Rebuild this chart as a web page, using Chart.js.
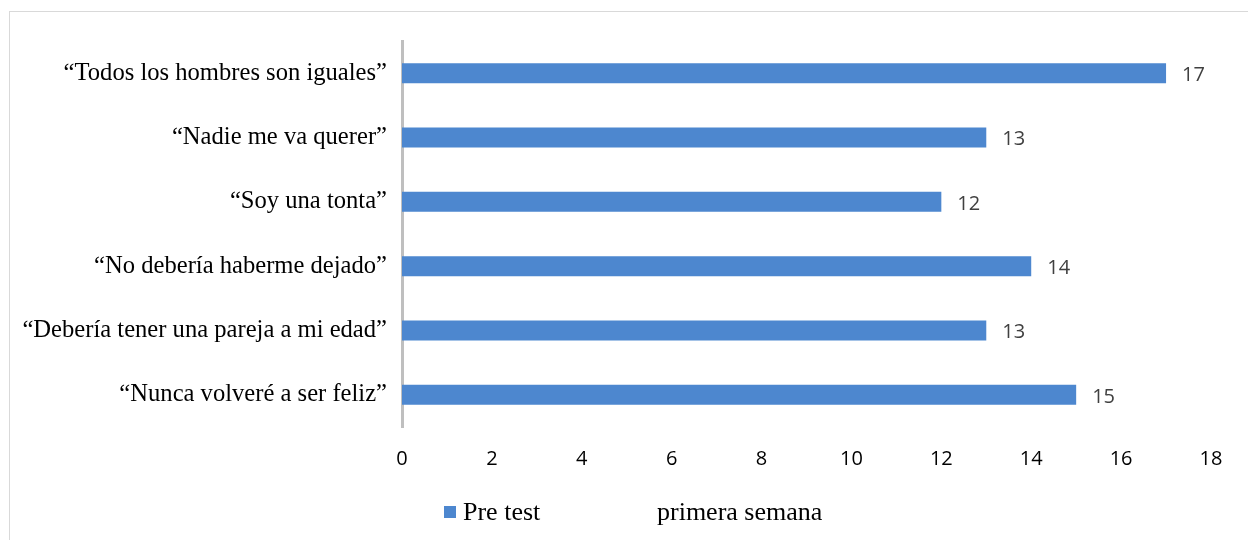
<!DOCTYPE html>
<html>
<head>
<meta charset="utf-8">
<script src="https://cdn.jsdelivr.net/npm/chart.js@4.4.1/dist/chart.umd.min.js"></script>
<style>
  html, body { margin: 0; padding: 0; background: #ffffff; overflow: hidden; }
  #wrap { position: relative; width: 1248px; height: 540px; }
  #frame { position: absolute; left: 9px; top: 11px; width: 1260px; height: 560px;
           border: 1px solid #d9d9d9; box-sizing: border-box; }
  canvas { position: absolute; left: 0; top: 0; }
</style>
</head>
<body>
<div id="wrap">
  <div id="frame"></div>
  <canvas id="chart" width="1248" height="540"></canvas>
</div>
<script>
// Categories (top to bottom) and the counts for each statement
const categories = [
  "\u201CTodos los hombres son iguales\u201D",
  "\u201CNadie me va querer\u201D",
  "\u201CSoy una tonta\u201D",
  "\u201CNo deber\u00EDa haberme dejado\u201D",
  "\u201CDeber\u00EDa tener una pareja a mi edad\u201D",
  "\u201CNunca volver\u00E9 a ser feliz\u201D"
];
const preTest = [17, 13, 12, 14, 13, 15];
const seriesName = "Pre test";
const legendSecond = "primera semana";
const xTicks = [0, 2, 4, 6, 8, 10, 12, 14, 16, 18];

const BAR_COLOR = "#4d87cf";
const SERIF = "'Liberation Serif', 'Times New Roman', serif";
const SANS = "'Open Sans', sans-serif";

// Writes each bar's value just past its end
const valueLabels = {
  id: "valueLabels",
  afterDatasetsDraw(chart) {
    const ctx = chart.ctx;
    const meta = chart.getDatasetMeta(0);
    ctx.save();
    ctx.font = "20px " + SANS;
    ctx.fillStyle = "#404040";
    ctx.textAlign = "left";
    ctx.textBaseline = "middle";
    meta.data.forEach((bar, i) => {
      ctx.fillText(String(chart.data.datasets[0].data[i]), bar.x + 16, bar.y + 2);
    });
    ctx.restore();
  }
};

// Legend row under the axis: a filled swatch for the series, then a plain caption
const legendRow = {
  id: "legendRow",
  afterDraw(chart) {
    const ctx = chart.ctx;
    const y = chart.chartArea.bottom + 85;
    ctx.save();
    ctx.fillStyle = BAR_COLOR;
    ctx.fillRect(444, y - 6, 12, 12);
    ctx.fillStyle = "#000000";
    ctx.font = "26px " + SERIF;
    ctx.textAlign = "left";
    ctx.textBaseline = "middle";
    ctx.fillText(seriesName, 463, y + 1);
    ctx.fillText(legendSecond, 657, y + 1);
    ctx.restore();
  }
};

new Chart(document.getElementById("chart"), {
  type: "bar",
  data: {
    labels: categories,
    datasets: [{
      label: seriesName,
      data: preTest,
      backgroundColor: BAR_COLOR,
      borderWidth: 0,
      categoryPercentage: 0.31,
      barPercentage: 1.0
    }]
  },
  options: {
    indexAxis: "y",
    responsive: false,
    animation: false,
    layout: { padding: { top: 41, right: 37, left: 0, bottom: 53 } },
    scales: {
      x: {
        min: 0,
        max: 18,
        afterBuildTicks(scale) { scale.ticks = xTicks.map(v => ({ value: v })); },
        grid: { display: false, drawTicks: false },
        border: { display: false },
        ticks: {
          padding: 20,
          color: "#000000",
          font: { family: SANS, size: 20 }
        },
        afterFit(scale) { scale.height = 60; }
      },
      y: {
        grid: { display: false, drawTicks: false },
        border: { display: true, color: "#bfbfbf", width: 3 },
        ticks: {
          padding: 15,
          color: "#000000",
          font: { family: SERIF, size: 24.6 }
        },
        afterFit(scale) { scale.width = 402; }
      }
    },
    plugins: {
      tooltip: { enabled: false },
      legend: { display: false }
    }
  },
  plugins: [valueLabels, legendRow]
});
</script>
</body>
</html>
